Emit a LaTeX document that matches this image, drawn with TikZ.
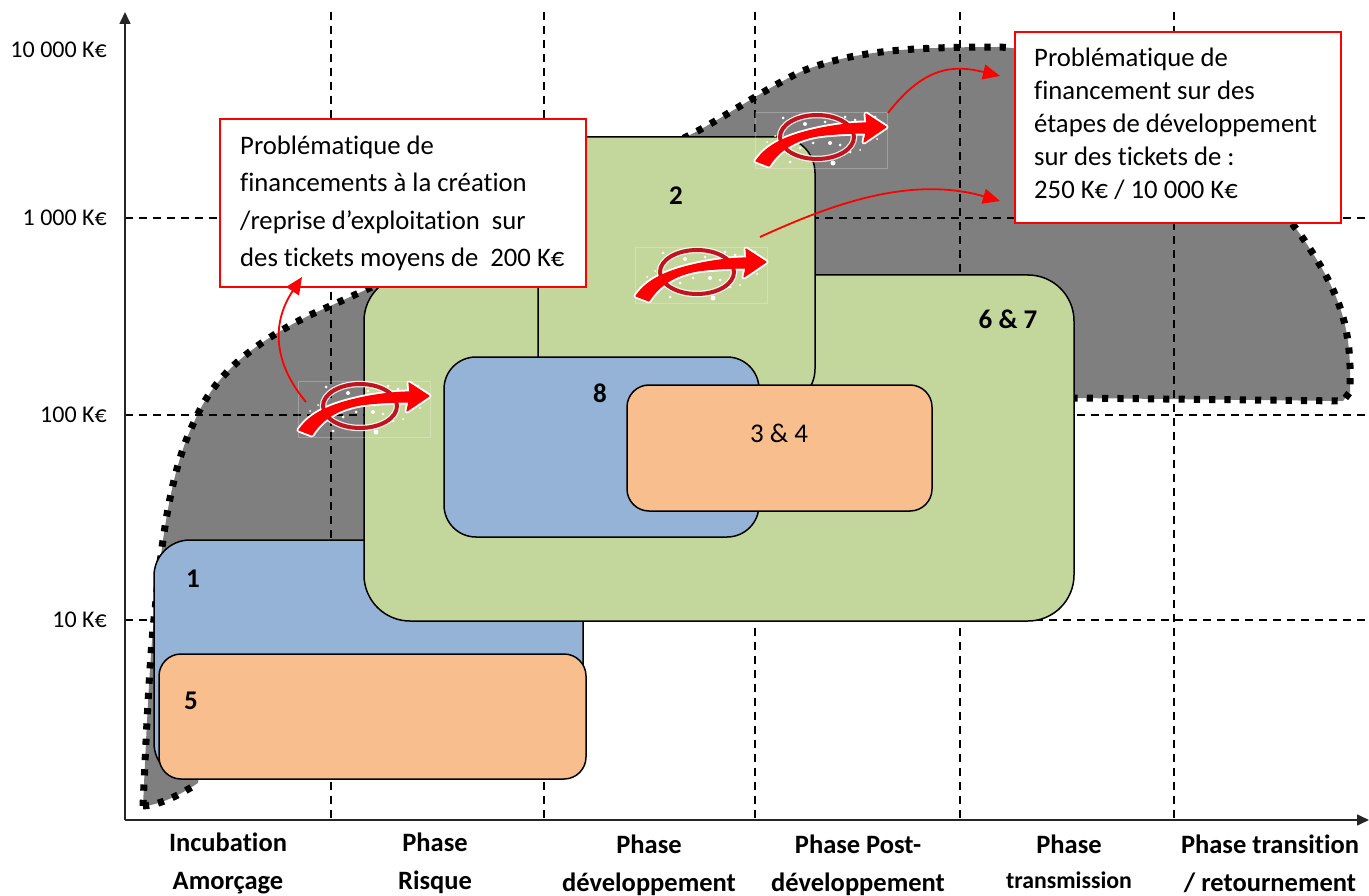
\documentclass[tikz,border=0pt]{standalone}
\usepackage{fontspec}
\setmainfont[Ligatures=NoCommon]{Carlito}
\usetikzlibrary{arrows.meta,calc}
\definecolor{gblue}{HTML}{95B3D7}
\definecolor{ggreen}{HTML}{C3D69B}
\definecolor{gorange}{HTML}{F9BE8E}
\definecolor{ggray}{HTML}{7F7F7F}
\definecolor{dred}{HTML}{C0141E}
\newcommand{\envelope}{(143,806) .. controls (146,740) and (150,650) .. (155,610)
  .. controls (162,540) and (170,470) .. (195,420)
  .. controls (215,375) and (250,345) .. (310,315)
  .. controls (400,275) and (560,200) .. (690,135)
  .. controls (725,117) and (760,92) .. (800,72)
  .. controls (850,52) and (900,47) .. (1000,47)
  .. controls (1120,55) and (1230,140) .. (1300,234)
  .. controls (1335,285) and (1352,320) .. (1350,385)
  -- (1350,392) -- (1343,401) -- (1075,398)}
\tikzset{
  x=1pt,y=-1pt,
  grid/.style={black,line width=1.4pt,dash pattern=on 8pt off 6pt},
  axis/.style={black!85,line width=1.6pt,-{Triangle[length=12pt,width=11pt]}},
  zone/.style={draw=black,line width=1.5pt,inner sep=0pt},
  callout/.style={draw=red,fill=white,line width=2pt,inner sep=0pt},
  calltext/.style={align=left,inner sep=0pt},
  ylab/.style={anchor=east,font=\fontsize{24}{26}\selectfont,inner sep=0pt},
  xlab/.style={align=center,font=\fontsize{26.5}{38}\selectfont\bfseries,inner sep=0pt},
  numlab/.style={font=\fontsize{27}{30}\selectfont\bfseries,inner sep=0pt},
  dotline/.style={black,line width=7pt,dash pattern=on 6.2pt off 9.1pt},
  redarrow/.style={red,line width=1.8pt,-{Triangle[length=17pt,width=15pt]}},
  nosign/.pic={
    \draw[white,opacity=.25,line width=.7pt] (0,0) rectangle (132,56);
    \foreach \sx/\sy/\sr in {8/42/1.5,18/38/1.5,28/6/1.5,20/24/1,45/3/1.5,60/46/2,78/51/2.5,95/40/1.5,105/38/1,100/8/1.5,90/5/1.5,120/5/1.5,
       50/12/2,70/10/1.5,85/13/1.5,58/31/1.5,75/31/2,85/33/1.5,45/36/1.5,122/27/1,35/50/1.5,12/30/1}
      \fill[white] (\sx,\sy) circle [radius=\sr];
    \draw[white,opacity=.85,line width=6.5pt] (62,25) ellipse [x radius=37,y radius=22];
    \path[fill=white,draw=white,line width=5pt,line join=round]
      (1,49) .. controls (10,36) and (25,25) .. (62,17) .. controls (80,13) and (100,11) .. (112,11)
      -- (111,2) -- (131,15) -- (109,30) -- (111,21)
      .. controls (95,21) and (75,22) .. (62,24) .. controls (40,28) and (24,38) .. (14,54) -- cycle;
    \draw[dred,line width=4pt] (62,25) ellipse [x radius=37,y radius=22];
    \path[fill=red,draw=red,line width=1.2pt,line join=round]
      (1,49) .. controls (10,36) and (25,25) .. (62,17) .. controls (80,13) and (100,11) .. (112,11)
      -- (111,2) -- (131,15) -- (109,30) -- (111,21)
      .. controls (95,21) and (75,22) .. (62,24) .. controls (40,28) and (24,38) .. (14,54) -- cycle;
  },
}
\begin{document}
\begin{tikzpicture}
\useasboundingbox (0,0) rectangle (1369,896);
% gray envelope
\path[fill=ggray] \envelope -- (1060,400) -- (1060,610) -- (575,610) -- (575,770) -- (200,770)
  -- (198,783) .. controls (180,795) and (160,805) .. (143,806) -- cycle;
\draw[dotline] \envelope;
\draw[dotline] (143,806) .. controls (160,805) and (180,795) .. (198,783);
% grid
\foreach \gx/\gn in {331/a,544/b,755/c,960/d,1174/e}{
  \coordinate (gt\gn) at (\gx,12);
  \coordinate (gb\gn) at (\gx,820);
  \draw[grid] (gt\gn) -- (gb\gn);
}
\foreach \gy/\gn in {218/a,415/b,620/c}{
  \coordinate (gl\gn) at (125,\gy);
  \coordinate (gr\gn) at (1369,\gy);
  \draw[grid] (gl\gn) -- (gr\gn);
}
% axes
\coordinate (origin) at (125,820);
\coordinate (ytop) at (125,12);
\coordinate (xend) at (1369,820);
\draw[axis] (origin) -- (ytop);
\draw[axis] (origin) -- (xend);
% zones
\draw[zone,fill=gblue,rounded corners=36pt] (154,540) rectangle (583,779);
\node[numlab] (n1) at (193,579) {1};
\draw[zone,fill=gorange,rounded corners=22pt] (159,654) rectangle (586,779);
\node[numlab] (n5) at (191,701) {5};
\draw[zone,fill=ggreen,rounded corners=46pt] (364,275) rectangle (1074,621);
\node[numlab] (n67) at (1008,319) {6 \& 7};
\draw[zone,fill=ggreen,rounded corners=36pt] (538,137) rectangle (815,405);
\node[numlab] (n2) at (676,196) {2};
\draw[zone,fill=gblue,rounded corners=32pt] (444,357) rectangle (759,537);
\node[numlab] (n8) at (600,393) {8};
\draw[zone,fill=gorange,rounded corners=22pt] (627,385) rectangle (932,511);
\node[font=\fontsize{27}{30}\selectfont,inner sep=0pt] (n34) at (779,433) {3 \& 4};
% callouts
\node[callout,minimum width=366pt,minimum height=168pt,anchor=north west] (cl) at (219,118) {};
\node[calltext,anchor=north west,font=\fontsize{26.7}{37.2}\selectfont] (cltext) at (240,136) {Problématique de\\financements à la création\\/reprise d’exploitation\ \ sur\\des tickets moyens de\ \ 200 K€};
\node[callout,minimum width=326pt,minimum height=191pt,anchor=north west] (cr) at (1014,31) {};
\node[calltext,anchor=north west,font=\fontsize{26.7}{33}\selectfont] (crtext) at (1034,48) {Problématique de\\financement sur des\\étapes de développement\\sur des tickets de :\\250 K€ / 10 000 K€};
% symbols
\path (298,381) pic {nosign};
\path (755,112) pic {nosign};
\path (635,247) pic {nosign};
% connectors
\coordinate (a1s) at (306,402);
\coordinate (a1e) at (302,277);
\draw[redarrow] (a1s) .. controls (275,365) and (270,325) .. (a1e);
\coordinate (a2s) at (888,113);
\coordinate (a2e) at (1000,76);
\draw[redarrow] (a2s) .. controls (925,65) and (955,65) .. (a2e);
\coordinate (a3s) at (760,237);
\coordinate (a3e) at (1000,201);
\draw[redarrow] (a3s) .. controls (830,205) and (910,175) .. (a3e);
% y labels
\node[ylab] (y4) at (107,50) {10 000 K€};
\node[ylab] (y3) at (107,218) {1 000 K€};
\node[ylab] (y2) at (107,415) {100 K€};
\node[ylab] (y1) at (107,620) {10 K€};
% x labels
\node[xlab] (x1) at (228,863) {Incubation\\Amorçage};
\node[xlab] (x2) at (435,863) {Phase\\Risque};
\node[xlab] (x3) at (649,865) {Phase\\développement};
\node[xlab] (x4) at (858,865) {Phase Post-\\développement};
\node[xlab,font=\fontsize{26.5}{35}\selectfont\bfseries] (x5) at (1069,862) {Phase\\{\fontsize{23.8}{35}\selectfont transmission}};
\node[xlab] (x6) at (1270,864) {Phase transition\\/ retournement};
\end{tikzpicture}
\end{document}
